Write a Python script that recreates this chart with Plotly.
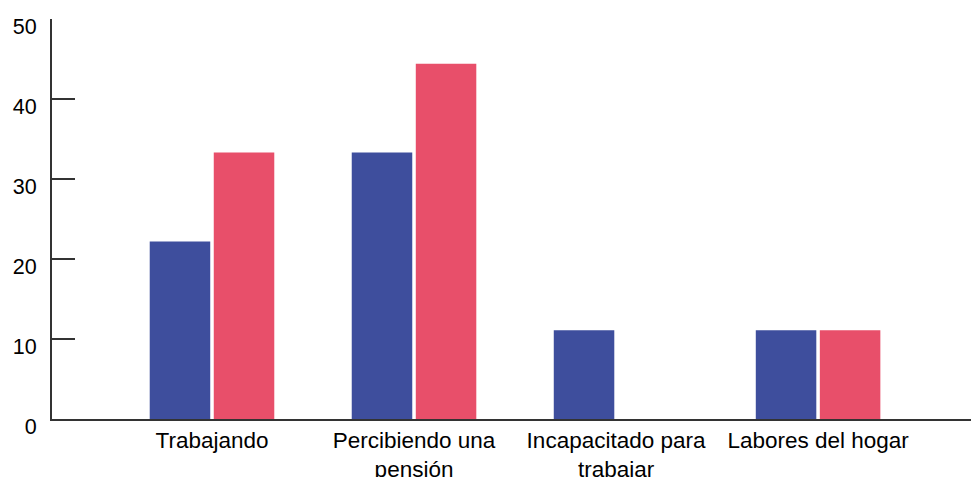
import plotly.graph_objects as go

categories = ["Trabajando", "Percibiendo una<br>pensión", "Incapacitado para<br>trabajar", "Labores del hogar"]
serie_azul = [22.2, 33.3, 11.1, 11.1]
serie_roja = [33.3, 44.4, 0, 11.1]
y_ticks = [0, 10, 20, 30, 40, 50]

fig = go.Figure()
fig.add_trace(go.Bar(x=categories, y=serie_azul, marker=dict(color="#3E4E9D", line=dict(width=0)), name="A"))
fig.add_trace(go.Bar(x=categories, y=serie_roja, marker=dict(color="#E84F6A", line=dict(width=0)), name="B"))

fig.update_layout(
    width=971, height=477,
    margin=dict(l=52, r=0, t=19, b=58),
    plot_bgcolor="white", paper_bgcolor="white",
    showlegend=False,
    barmode="group", bargap=0.366, bargroupgap=0.055,
    font=dict(family="Liberation Sans, Arial, sans-serif", size=22, color="#000"),
)
fig.update_xaxes(
    type="category", range=[-0.792, 3.757],
    showline=True, linecolor="#333", linewidth=2,
    ticks="", showgrid=False, zeroline=False,
    tickfont=dict(size=22.5),
    ticklabelstandoff=0, automargin=False,
)
fig.update_yaxes(
    range=[0, 50], tickvals=y_ticks,
    showline=True, linecolor="#333", linewidth=2,
    ticks="inside", ticklen=23, tickwidth=2, tickcolor="#333",
    showgrid=False, zeroline=False,
    ticklabelstandoff=9, ticklabelshift=7, automargin=False,
    tickfont=dict(size=21.5),
)

fig.write_html("out.html")
